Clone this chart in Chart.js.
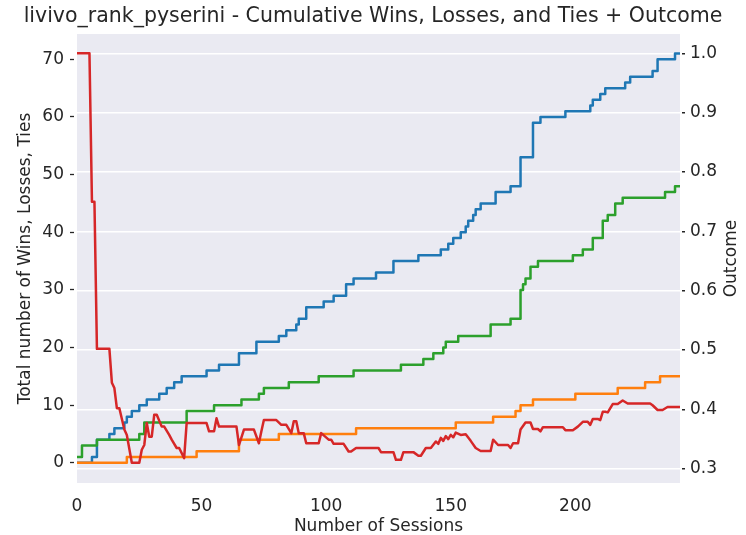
<!DOCTYPE html>
<html>
<head>
<meta charset="utf-8">
<script src="https://cdn.jsdelivr.net/npm/chart.js@4.4.1/dist/chart.umd.min.js"></script>
<style>
    body { margin: 0; background: #ffffff; }
    canvas { display: block; }
</style>
</head>
<body>
<canvas id="graphique" width="746" height="535"></canvas>
<script>
// cumulative totals: session where a new total starts, and that total
const winsSessions = [0, 6, 8, 13, 15, 19, 20, 22, 25, 28, 33, 36, 39, 42, 52, 57, 65, 72, 81, 84,
    88, 89, 92, 99, 103, 108, 111, 120, 127, 137, 146, 149, 151, 154, 156, 157, 159, 160, 162, 168,
    174, 178, 183, 186, 196, 206, 207, 210, 212, 220, 222, 231, 233, 240, 242];
const winsTotals = [0, 1, 4, 5, 6, 7, 8, 9, 10, 11, 12, 13, 14, 15, 16, 17, 19, 21, 22, 23,
    24, 25, 27, 28, 29, 31, 32, 33, 35, 36, 37, 38, 39, 40, 41, 42, 43, 44, 45, 47,
    48, 53, 59, 60, 61, 62, 63, 64, 65, 66, 67, 68, 70, 71, 71];

const lossesSessions = [0, 20, 48, 65, 81, 112, 152, 167, 176, 178, 183, 200, 217, 228, 234, 242];
const lossesTotals = [0, 1, 2, 4, 5, 6, 7, 8, 9, 10, 11, 12, 13, 14, 15, 15];

const tiesSessions = [0, 2, 8, 25, 27, 44, 55, 66, 73, 75, 85, 97, 111, 130, 139, 143, 147, 148, 153, 166,
    174, 178, 179, 180, 182, 185, 199, 203, 207, 211, 213, 216, 219, 236, 240, 242];
const tiesTotals = [1, 3, 4, 5, 7, 9, 10, 11, 12, 13, 14, 15, 16, 17, 18, 19, 20, 21, 22, 24,
    25, 30, 31, 32, 34, 35, 36, 37, 39, 42, 43, 45, 46, 47, 48, 48];

// outcome per session (right axis)
const outcomeSessions = [0, 5, 6, 7, 8, 13, 14, 15, 16, 17, 19, 20, 22, 25, 26, 27, 28, 29, 30, 31,
    32, 34, 35, 37, 38, 40, 41, 43, 44, 52, 53, 55, 56, 57, 64, 65, 67, 71, 73, 74,
    75, 80, 82, 84, 86, 87, 88, 89, 91, 92, 97, 98, 101, 102, 103, 107, 109, 110, 112, 121,
    122, 127, 128, 130, 131, 135, 137, 138, 140, 142, 144, 145, 146, 147, 148, 149, 150, 151, 152, 154,
    156, 158, 160, 162, 166, 167, 169, 173, 174, 175, 177, 178, 180, 182, 183, 185, 186, 187, 195, 196,
    199, 201, 203, 205, 206, 207, 209, 210, 211, 212, 213, 215, 217, 219, 221, 230, 231, 233, 235, 237, 242];
const outcomeValues = [1.0, 1.0, 0.75, 0.75, 0.502, 0.502, 0.445, 0.436, 0.402, 0.402, 0.366, 0.357, 0.31, 0.31, 0.332, 0.34, 0.377, 0.354, 0.354, 0.391,
    0.391, 0.371, 0.371, 0.357, 0.349, 0.335, 0.335, 0.318, 0.377, 0.377, 0.363, 0.363, 0.385, 0.371, 0.371, 0.34, 0.366, 0.366, 0.343, 0.363,
    0.382, 0.382, 0.374, 0.374, 0.36, 0.38, 0.38, 0.36, 0.36, 0.343, 0.343, 0.36, 0.349, 0.349, 0.342, 0.342, 0.329, 0.329, 0.335, 0.335,
    0.328, 0.328, 0.315, 0.315, 0.328, 0.328, 0.322, 0.322, 0.335, 0.335, 0.346, 0.342, 0.352, 0.347, 0.355, 0.35, 0.357, 0.353, 0.361, 0.357,
    0.358, 0.347, 0.335, 0.33, 0.33, 0.349, 0.34, 0.34, 0.335, 0.343, 0.343, 0.366, 0.378, 0.378, 0.367, 0.367, 0.363, 0.37, 0.37, 0.365,
    0.365, 0.371, 0.379, 0.379, 0.374, 0.384, 0.384, 0.382, 0.396, 0.396, 0.395, 0.409, 0.409, 0.415, 0.41, 0.41, 0.407, 0.399, 0.399, 0.404, 0.404];

const sessionTicks = [0, 50, 100, 150, 200];
const totalTicks = [0, 10, 20, 30, 40, 50, 60, 70];
const outcomeTicks = [0.3, 0.4, 0.5, 0.6, 0.7, 0.8, 0.9, 1.0];
const lastSession = 242;

const texte = '#262626';
Chart.defaults.font.family = '"DejaVu Sans", sans-serif';
Chart.defaults.color = texte;

function points(xs, ys) {
    return xs.map((x, i) => ({ x: x, y: ys[i] }));
}

// gray plot background
const fond = {
    id: 'fond',
    beforeDraw(chart) {
        const { ctx, chartArea } = chart;
        ctx.save();
        ctx.fillStyle = '#eaeaf2';
        ctx.fillRect(chartArea.left, chartArea.top, chartArea.width, chartArea.height);
        ctx.restore();
    }
};

// right axis title reads bottom to top
const titreDroite = {
    id: 'titreDroite',
    afterDraw(chart) {
        const { ctx, chartArea } = chart;
        const axe = chart.scales.y1;
        ctx.save();
        ctx.translate(axe.right - 14, (chartArea.top + chartArea.bottom) / 2);
        ctx.rotate(-Math.PI / 2);
        ctx.font = '17px "DejaVu Sans"';
        ctx.fillStyle = texte;
        ctx.textAlign = 'center';
        ctx.textBaseline = 'middle';
        ctx.fillText('Outcome', 0, 0);
        ctx.restore();
    }
};

const courbe = {
    borderWidth: 2.5,
    pointRadius: 0,
    fill: false,
    borderJoinStyle: 'round'
};

const graph = document.getElementById('graphique');

new Chart(graph, {
    type: 'line',
    data: {
        datasets: [{
            ...courbe,
            label: 'Wins',
            data: points(winsSessions, winsTotals),
            borderColor: '#1f77b4',
            stepped: true,
            yAxisID: 'y',
            order: 4
        }, {
            ...courbe,
            label: 'Losses',
            data: points(lossesSessions, lossesTotals),
            borderColor: '#ff7f0e',
            stepped: true,
            yAxisID: 'y',
            order: 3
        }, {
            ...courbe,
            label: 'Ties',
            data: points(tiesSessions, tiesTotals),
            borderColor: '#2ca02c',
            stepped: true,
            yAxisID: 'y',
            order: 2
        }, {
            ...courbe,
            label: 'Outcome',
            data: points(outcomeSessions, outcomeValues),
            borderColor: '#d62728',
            tension: 0,
            yAxisID: 'y1',
            order: 1
        }]
    },
    options: {
        responsive: false,
        animation: false,
        devicePixelRatio: 1,
        layout: { padding: 0 },
        plugins: {
            legend: { display: false },
            tooltip: { enabled: false },
            title: {
                display: true,
                text: 'livivo_rank_pyserini - Cumulative Wins, Losses, and Ties + Outcome',
                color: texte,
                font: { size: 20.5, weight: 'normal' },
                padding: { top: 4, bottom: 5.4 }
            }
        },
        scales: {
            x: {
                type: 'linear',
                min: 0,
                max: lastSession,
                afterBuildTicks: axe => { axe.ticks = sessionTicks.map(v => ({ value: v })); },
                afterFit: axe => { axe.height = 52; },
                grid: { display: false, drawTicks: false },
                border: { display: false },
                ticks: { font: { size: 17 }, padding: 13 },
                title: {
                    display: true,
                    text: 'Number of Sessions',
                    font: { size: 17 },
                    padding: { top: 0, bottom: -2 }
                }
            },
            y: {
                position: 'left',
                min: -3.5,
                max: 74.4,
                afterBuildTicks: axe => { axe.ticks = totalTicks.map(v => ({ value: v })); },
                afterFit: axe => { axe.width = 77; },
                grid: {
                    drawOnChartArea: false,
                    tickLength: 7,
                    tickColor: texte,
                    tickWidth: 1.3,
                    tickBorderDash: [4, 3]
                },
                border: { display: false },
                ticks: { font: { size: 17 }, padding: 6 },
                title: {
                    display: true,
                    text: 'Total number of Wins, Losses, Ties',
                    font: { size: 17 },
                    padding: { top: 15, bottom: 0 }
                }
            },
            y1: {
                position: 'right',
                min: 0.276,
                max: 1.0325,
                afterBuildTicks: axe => { axe.ticks = outcomeTicks.map(v => ({ value: v })); },
                afterFit: axe => { axe.width = 66; },
                grid: {
                    color: '#ffffff',
                    lineWidth: 1.5,
                    tickLength: 5,
                    tickColor: texte,
                    tickWidth: 1.3,
                    tickBorderDash: [0, 2, 3, 10]
                },
                border: { display: false },
                ticks: {
                    font: { size: 17 },
                    padding: 5,
                    callback: v => v.toFixed(1)
                }
            }
        }
    },
    plugins: [fond, titreDroite]
});
</script>
</body>
</html>
